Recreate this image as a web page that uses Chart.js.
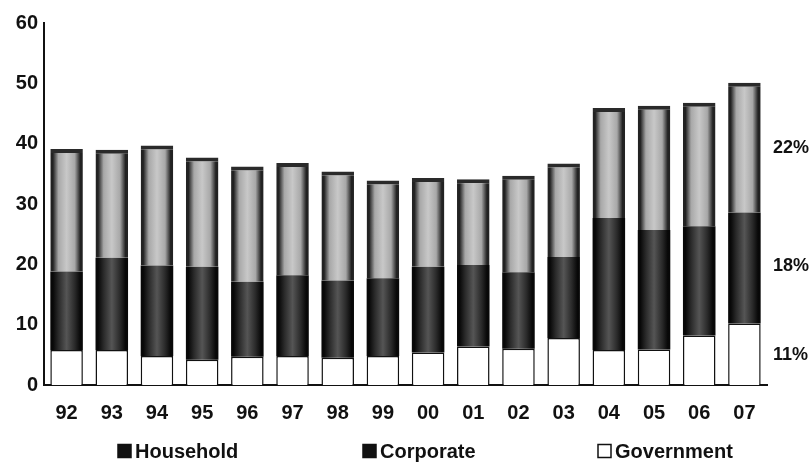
<!DOCTYPE html>
<html>
<head>
<meta charset="utf-8">
<script src="https://cdn.jsdelivr.net/npm/chart.js@4.4.1/dist/chart.umd.min.js"></script>
<style>
  body { margin: 0; background: #fff; }
  #wrap { width: 810px; height: 462px; position: relative; }
</style>
</head>
<body>
<div id="wrap"><canvas id="chart"></canvas></div>
<script>
const years = ['92', '93', '94', '95', '96', '97', '98', '99', '00', '01', '02', '03', '04', '05', '06', '07'];
const government = [5.8, 5.8, 4.8, 4.2, 4.7, 4.8, 4.5, 4.8, 5.4, 6.4, 6.0, 7.8, 5.8, 5.9, 8.2, 10.2];
const corporate = [13.0, 15.3, 15.0, 15.4, 12.4, 13.4, 12.8, 12.9, 14.2, 13.5, 12.7, 13.4, 21.9, 19.8, 18.1, 18.4];
const household = [20.3, 17.9, 19.9, 18.1, 19.1, 18.6, 18.1, 16.2, 14.7, 14.2, 16.0, 15.5, 18.2, 20.6, 20.5, 21.5];
const yTicks = [0, 10, 20, 30, 40, 50, 60];
// shares shown at the right of the last bar, and the value they sit beside
const shareLabels = ['22%', '18%', '11%'];
const shareAt = [39.2, 19.7, 5.0];

const FONT = '"Liberation Sans", Arial, sans-serif';

// dark edges, lighter middle, like the scanned bars
function barFill(c, stops) {
  const xs = c.chart.scales.x;
  if (!xs || c.dataIndex == null) return stops[2];
  const cx = xs.getPixelForValue(c.dataIndex);
  const half = xs.width / years.length * 0.72 / 2;
  if (!Number.isFinite(cx) || !Number.isFinite(half) || half <= 0) return stops[2];
  const g = c.chart.ctx.createLinearGradient(cx - half, 0, cx + half, 0);
  g.addColorStop(0, stops[0]);
  g.addColorStop(0.08, stops[0]);
  g.addColorStop(0.25, stops[1]);
  g.addColorStop(0.5, stops[2]);
  g.addColorStop(0.75, stops[1]);
  g.addColorStop(0.92, stops[0]);
  g.addColorStop(1, stops[0]);
  return g;
}

const shares = {
  id: 'shares',
  afterDraw(chart) {
    const { ctx, chartArea, scales } = chart;
    ctx.save();
    ctx.font = 'bold 18px ' + FONT;
    ctx.fillStyle = '#111';
    ctx.textAlign = 'left';
    ctx.textBaseline = 'middle';
    shareLabels.forEach((t, i) => {
      ctx.fillText(t, chartArea.right + 6, scales.y.getPixelForValue(shareAt[i]));
    });
    ctx.restore();
  }
};

// legend drawn by hand: the items are spread much wider than Chart.js spaces them
const spreadLegend = {
  id: 'spreadLegend',
  afterDraw(chart, args, opts) {
    const { ctx } = chart;
    const items = chart.data.datasets.slice().reverse();
    ctx.save();
    ctx.font = 'bold 20px ' + FONT;
    ctx.textBaseline = 'middle';
    ctx.textAlign = 'left';
    items.forEach((ds, i) => {
      const x = opts.starts[i], y = opts.y;
      ctx.fillStyle = ds.legendFill;
      ctx.fillRect(x, y - 6.5, 13, 13);
      ctx.strokeStyle = '#111';
      ctx.lineWidth = 1.5;
      ctx.strokeRect(x, y - 6.5, 13, 13);
      ctx.fillStyle = '#111';
      ctx.fillText(ds.label, x + 17, y + 1);
    });
    ctx.restore();
  }
};

new Chart(document.getElementById('chart'), {
  type: 'bar',
  data: {
    labels: years,
    datasets: [
      {
        label: 'Government',
        data: government,
        backgroundColor: '#ffffff',
        borderColor: '#111',
        borderWidth: 1.5,
        legendFill: '#ffffff',
      },
      {
        label: 'Corporate',
        data: corporate,
        backgroundColor: (c) => barFill(c, ['#080808', '#2a2a2a', '#555555']),
        borderColor: '#080808',
        borderWidth: { top: 0, bottom: 4, left: 0, right: 0 },
        legendFill: '#111',
      },
      {
        label: 'Household',
        data: household,
        backgroundColor: (c) => barFill(c, ['#222222', '#a8a8a8', '#c8c8c8']),
        borderColor: '#2a2a2a',
        borderWidth: { top: 4, bottom: 0, left: 0, right: 0 },
        legendFill: '#111',
      },
    ],
  },
  options: {
    responsive: true,
    maintainAspectRatio: false,
    animation: false,
    layout: { padding: { top: 23, right: 43, bottom: 21, left: 0 } },
    datasets: {
      bar: { barPercentage: 0.72, categoryPercentage: 1.0 },
    },
    plugins: {
      legend: { display: false },
      tooltip: { enabled: false },
      spreadLegend: { starts: [118, 363, 598], y: 451 },
    },
    scales: {
      x: {
        stacked: true,
        grid: { display: false, drawTicks: false },
        border: { display: true, color: '#111', width: 2 },
        ticks: {
          padding: 16,
          color: '#111',
          font: { family: FONT, size: 20, weight: 'bold' },
        },
      },
      y: {
        stacked: true,
        min: 0,
        max: 60,
        afterFit: (s) => { s.width = 44; },
        afterBuildTicks: (s) => { s.ticks = yTicks.map((v) => ({ value: v })); },
        grid: { display: false, drawTicks: false },
        border: { display: true, color: '#111', width: 2 },
        ticks: {
          padding: 6,
          color: '#111',
          font: { family: FONT, size: 20, weight: 'bold' },
        },
      },
    },
  },
  plugins: [shares, spreadLegend],
});
</script>
</body>
</html>
